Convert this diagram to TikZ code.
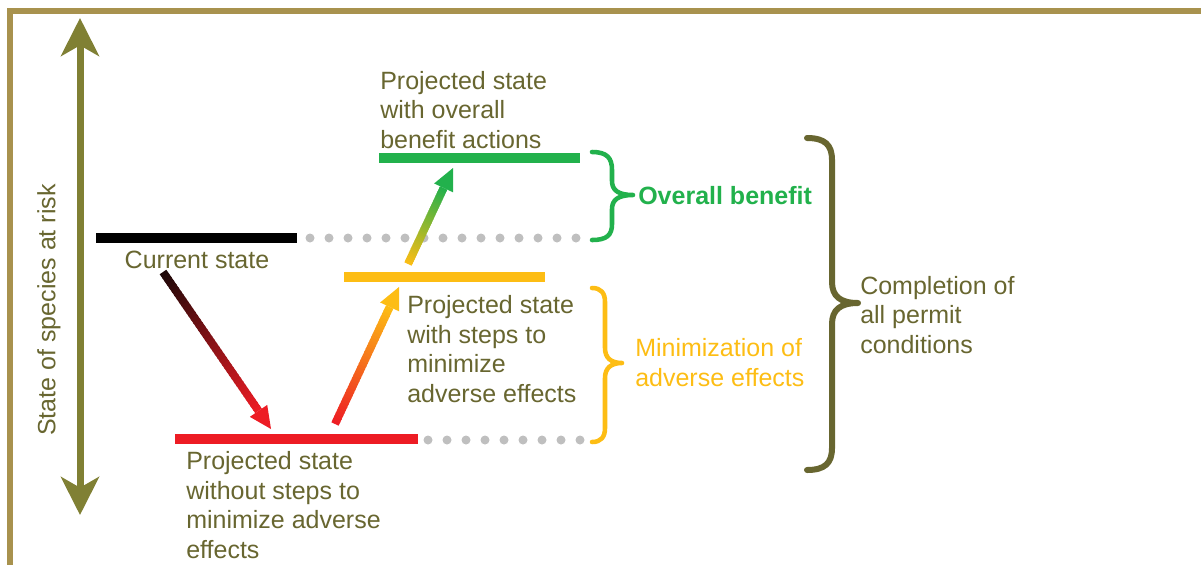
\documentclass[tikz,border=0pt]{standalone}
\usepackage{fontspec}
\setmainfont{Liberation Sans}
\usetikzlibrary{arrows.meta,calc}

\definecolor{framegold}{RGB}{168,146,78}
\definecolor{olivearrow}{RGB}{128,128,52}
\definecolor{olivetext}{RGB}{104,102,48}
\definecolor{barblack}{RGB}{0,0,0}
\definecolor{darkstart}{RGB}{28,8,8}
\definecolor{barred}{RGB}{237,28,36}
\definecolor{baryellow}{RGB}{253,189,20}
\definecolor{bargreen}{RGB}{34,177,76}
\definecolor{dotgray}{RGB}{191,191,191}

% shaft drawn in short pieces whose colour runs from #3 to #4, head in #4
\newcommand\shadedarrow[4]{%
  \coordinate (sa-base) at ($(#2)!16.5pt!(#1)$);
  \foreach \i in {0,...,39}{%
    \pgfmathsetmacro\ta{\i/40}%
    \pgfmathsetmacro\tb{min(1,(\i+1.4)/40)}%
    \pgfmathsetmacro\mix{100*(\i+0.5)/40}%
    \draw[line width=6pt, color=#4!\mix!#3] ($(#1)!\ta!(sa-base)$) -- ($(#1)!\tb!(sa-base)$);
  }%
  \fill[#4] (#2) -- ($(sa-base)!7.9pt!90:(#2)$) -- ($(sa-base)!7.9pt!-90:(#2)$) -- cycle;
}

\tikzset{
  level/.style={line width=7.5pt},
  dotrow/.style={dotgray, line width=6.75pt, line cap=round, dash pattern=on 0pt off 14.25pt},
  brace/.style={line width=3.4pt, line cap=round, line join=round},
  % multi-line labels are placed by the baseline of their last line
  txt/.style={font=\fontsize{18.75pt}{22.1pt}\selectfont, text=olivetext, align=left, inner sep=0pt, anchor=base west},
}

\begin{document}
\begin{tikzpicture}[x=0.75pt,y=-0.75pt]
\useasboundingbox (0,0) rectangle (1201,565);

% frame along the top and left edges
\draw[framegold, line width=4.5pt, line join=miter] (1201,11) -- (9.5,11) -- (9.5,565);

% vertical axis
\coordinate (ax-top) at (80,18);
\coordinate (ax-bot) at (80,515);
\draw[olivearrow, line width=5.25pt,
  {Stealth[length=28.5pt,width=28.5pt,inset=8pt]}-{Stealth[length=28.5pt,width=28.5pt,inset=8pt]}]
  (ax-top) -- (ax-bot);
\node[rotate=90, font=\fontsize{18.75pt}{22.1pt}\selectfont, text=olivetext, inner sep=0pt] (axislabel) at (49,310) {State of species at risk};

% state levels
\coordinate (cur-w) at (96,238);   \coordinate (cur-e) at (297,238);
\coordinate (grn-w) at (379,158);  \coordinate (grn-e) at (580,158);
\coordinate (yel-w) at (344,277);  \coordinate (yel-e) at (545,277);
\coordinate (red-w) at (175,439);  \coordinate (red-e) at (418,439);
\draw[level, barblack] (cur-w) -- (cur-e);
\draw[level, bargreen] (grn-w) -- (grn-e);
\draw[level, baryellow] (yel-w) -- (yel-e);
\draw[level, barred] (red-w) -- (red-e);

% dotted guide lines
\coordinate (dotA-s) at (310,238); \coordinate (dotA-e) at (577,238);
\coordinate (dotB-s) at (428,440); \coordinate (dotB-e) at (581,440);
\draw[dotrow] (dotA-s) -- (dotA-e);
\draw[dotrow] (dotB-s) -- (dotB-e);

% transitions between states
\coordinate (a1-s) at (163,272); \coordinate (a1-e) at (271,429);
\coordinate (a2-s) at (335,424); \coordinate (a2-e) at (399,287);
\coordinate (a3-s) at (408,264); \coordinate (a3-e) at (453,168);
\shadedarrow{a1-s}{a1-e}{darkstart}{barred}
\shadedarrow{a2-s}{a2-e}{barred}{baryellow}
\shadedarrow{a3-s}{a3-e}{baryellow}{bargreen}

% braces
\draw[brace, bargreen] (592,152) .. controls (607,152) and (612,158) .. (612,170) -- (612,181)
  .. controls (612,190) and (618,195) .. (633,195)
  .. controls (618,195) and (612,200) .. (612,209) -- (612,224)
  .. controls (612,235) and (607,240) .. (592,240);
\draw[brace, baryellow] (592,288) .. controls (601,288) and (605,293) .. (605,302) -- (605,348)
  .. controls (605,358) and (611,363) .. (622,363)
  .. controls (611,363) and (605,368) .. (605,378) -- (605,428)
  .. controls (605,437) and (601,442) .. (592,442);
\draw[brace, olivetext, line width=4.5pt] (807,138) .. controls (825,138) and (832,145) .. (832,160) -- (832,282)
  .. controls (832,296) and (840,303) .. (858,303)
  .. controls (840,303) and (832,310) .. (832,324) -- (832,448)
  .. controls (832,463) and (825,470) .. (807,470);

% labels
\node[txt] (lbl-grn) at (380,148) {Projected state\\with overall\\benefit actions};
\node[txt, anchor=base] (lbl-cur) at (197,268) {Current state};
\node[txt] (lbl-yel) at (407,402) {Projected state\\with steps to\\minimize\\adverse effects};
\node[txt] (lbl-red) at (186,558) {Projected state\\without steps to\\minimize adverse\\effects};
\node[txt, text=baryellow] (lbl-min) at (635,386) {Minimization of\\adverse effects};
\node[txt, text=bargreen, font=\fontsize{18.75pt}{22.1pt}\selectfont\bfseries] (lbl-ben) at (638,204) {Overall benefit};
\node[txt] (lbl-all) at (860,353) {Completion of\\all permit\\conditions};
\end{tikzpicture}
\end{document}
